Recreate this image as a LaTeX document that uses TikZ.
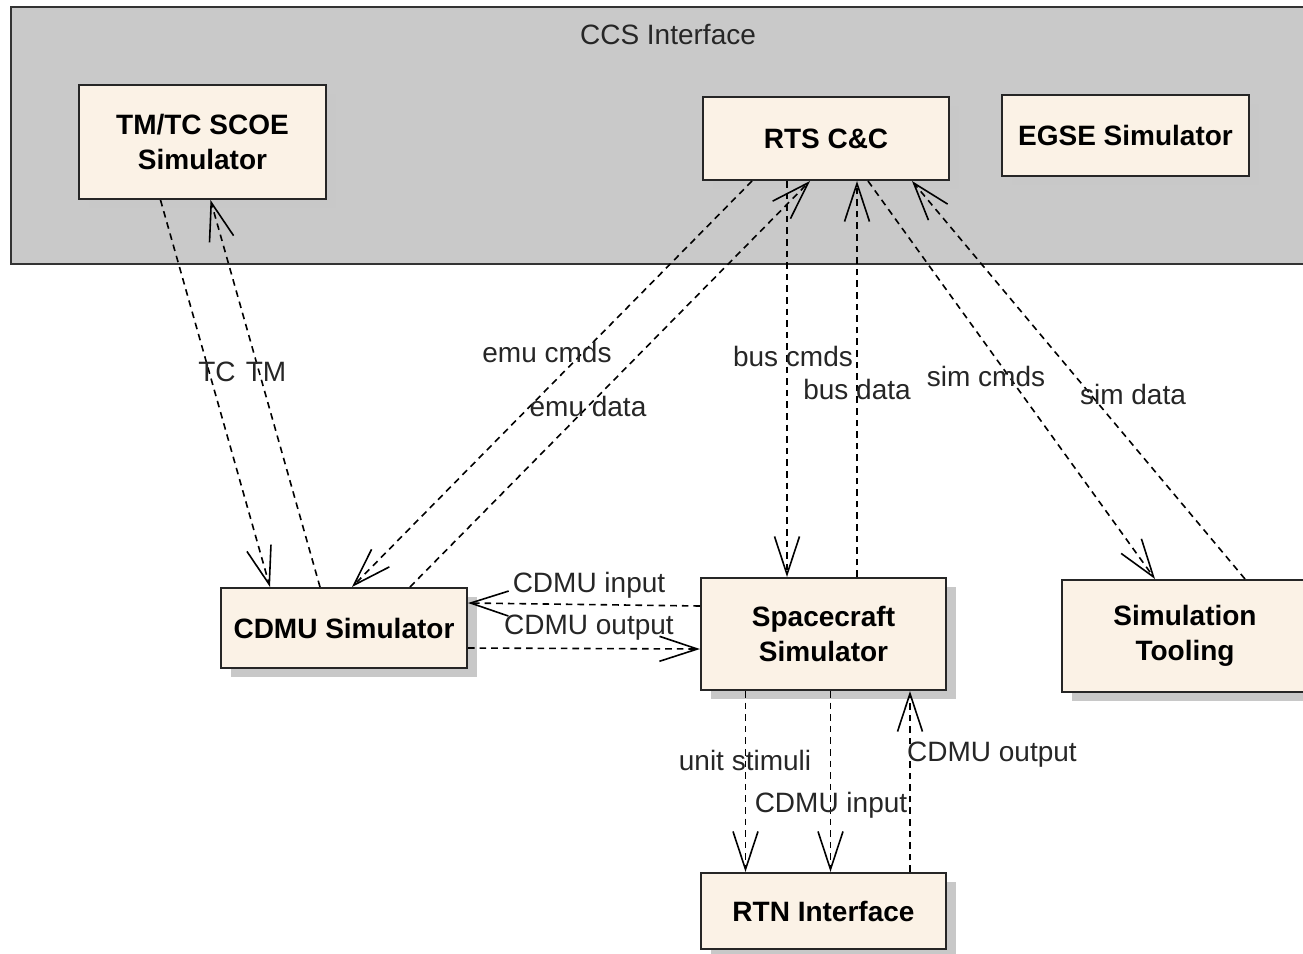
\documentclass[tikz,border=0pt]{standalone}
\usepackage{fontspec}
\setmainfont{Liberation Sans}
\usetikzlibrary{arrows.meta,calc,shadows}
\definecolor{ccsgrey}{HTML}{C9C9C9}
\definecolor{boxfill}{HTML}{FBF2E6}
\definecolor{shadowgrey}{HTML}{C8C8C8}
\begin{document}
\begin{tikzpicture}[x=0.5pt,y=-0.5pt,
  block/.style={draw=black!85, line width=1pt, fill=boxfill, inner sep=0pt,
    align=center, font=\fontsize{14}{17.5}\selectfont\bfseries,
    drop shadow={shadow xshift=5pt, shadow yshift=-4.5pt, fill=shadowgrey, opacity=1}},
  flow/.style={dash pattern=on 3.3pt off 2.5pt, line width=0.8pt,
    -{Straight Barb[length=19pt,width=12.5pt,line width=0.8pt]}},
  lbl/.style={font=\fontsize{14}{17}\selectfont, text=black!85, inner sep=1pt},
]
\useasboundingbox (0,0) rectangle (1303,954);

% CCS container
\node[draw=black!80, line width=1pt, fill=ccsgrey, minimum width=660pt, minimum height=128.5pt, inner sep=0pt]
  (ccs) at (671,135.5) {};
\node[lbl] (ccslabel) at (668,35) {CCS Interface};

% blocks
\node[block, minimum width=123.5pt, minimum height=57pt] (tmtc) at (202.5,142) {TM/TC SCOE\\Simulator};
\node[block, minimum width=123pt, minimum height=41.5pt] (rts) at (826,138.5) {RTS C\&C};
\node[block, minimum width=123.5pt, minimum height=40.5pt] (egse) at (1125.5,135.5) {EGSE Simulator};
\node[block, minimum width=123pt, minimum height=40pt] (cdmu) at (344,628) {CDMU Simulator};
\node[block, minimum width=122.5pt, minimum height=56pt] (sc) at (823.5,634) {Spacecraft\\Simulator};
\node[block, minimum width=123pt, minimum height=56pt] (tool) at (1185,636) {Simulation\\Tooling};
\node[block, minimum width=122.5pt, minimum height=38pt] (rtn) at (823.5,911) {RTN Interface};

% flows between CCS and the CDMU simulator
\draw[flow] ($(tmtc.south)+(-42,0)$) -- ($(cdmu.north)+(-74,0)$);
\draw[flow] ($(cdmu.north)+(-24,0)$) -- ($(tmtc.south)+(8,0)$);
\draw[flow] ($(rts.south)+(-74,0)$) -- ($(cdmu.north)+(8,0)$);
\draw[flow] ($(cdmu.north)+(66,0)$) -- ($(rts.south)+(-16,0)$);

% flows between RTS and the simulators
\draw[flow] ($(rts.south)+(-39,0)$) -- ($(sc.north)+(-36.5,0)$);
\draw[flow] ($(sc.north)+(33.5,0)$) -- ($(rts.south)+(31,0)$);
\draw[flow] ($(rts.south)+(42,0)$) -- ($(tool.north)+(-30,0)$);
\draw[flow] ($(tool.north)+(60,0)$) -- ($(rts.south)+(86,0)$);

% CDMU <-> spacecraft
\draw[flow] ($(sc.west)+(0,-28)$) -- ($(cdmu.east)+(0,-25)$);
\draw[flow] ($(cdmu.east)+(0,20)$) -- ($(sc.west)+(0,15)$);

% spacecraft <-> RTN
\draw[flow] ($(sc.south)+(-78,0)$) -- ($(rtn.north)+(-78,0)$);
\draw[flow] ($(sc.south)+(7,0)$) -- ($(rtn.north)+(7,0)$);
\draw[flow] ($(rtn.north)+(86.5,0)$) -- ($(sc.south)+(86.5,0)$);

% flow labels
\node[lbl] (ltc) at (217,372) {TC};
\node[lbl] (ltm) at (266,372) {TM};
\node[lbl] (lemuc) at (547,352) {emu cmds};
\node[lbl] (lemud) at (588,406) {emu data};
\node[lbl] (lbusc) at (793,356) {bus cmds};
\node[lbl] (lbusd) at (857,389) {bus data};
\node[lbl] (lsimc) at (986,376) {sim cmds};
\node[lbl] (lsimd) at (1133,394) {sim data};
\node[lbl] (lcin) at (589,585) {CDMU input};
\node[lbl] (lcout) at (589,628) {CDMU output};
\node[lbl] (lunit) at (745,760) {unit stimuli};
\node[lbl] (lcin2) at (831,805) {CDMU input};
\node[lbl] (lcout2) at (992,755) {CDMU output};
\end{tikzpicture}
\end{document}
